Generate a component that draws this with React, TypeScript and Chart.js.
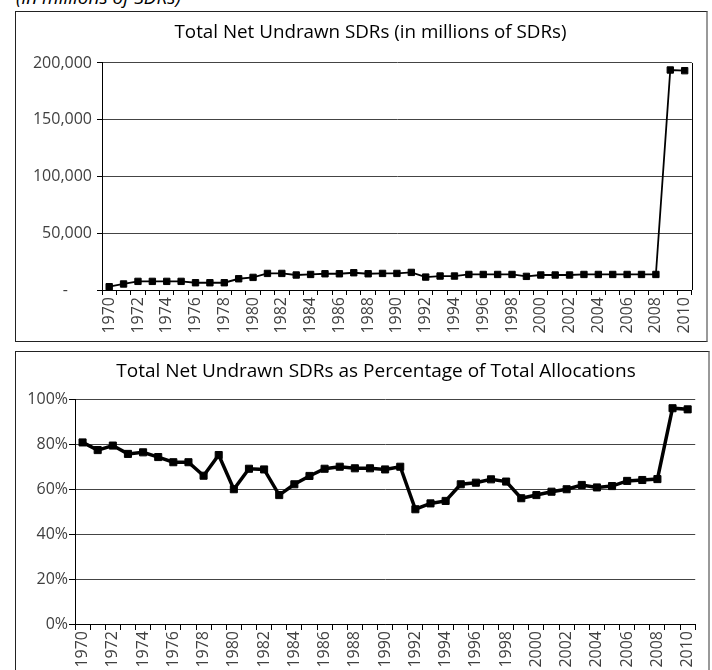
import React, { useEffect, useRef } from "react";
import { Chart, registerables } from "chart.js";

Chart.register(...registerables);

const years = [
  "1970", "1971", "1972", "1973", "1974", "1975", "1976", "1977", "1978", "1979",
  "1980", "1981", "1982", "1983", "1984", "1985", "1986", "1987", "1988", "1989",
  "1990", "1991", "1992", "1993", "1994", "1995", "1996", "1997", "1998", "1999",
  "2000", "2001", "2002", "2003", "2004", "2005", "2006", "2007", "2008", "2009",
  "2010",
];

// Total net undrawn SDRs, millions of SDRs
const undrawnSDRs = [
  2900, 5300, 7600, 7600, 7600, 7600, 6400, 6400, 6400, 9900,
  11100, 14600, 14600, 13200, 13700, 14300, 14300, 15200, 14300, 14600,
  14600, 15500, 11400, 12300, 12300, 13700, 13700, 13700, 13700, 12000,
  13200, 13200, 13200, 13700, 13700, 13700, 13700, 13700, 13700, 193800,
  193200,
];

// Net undrawn as % of total allocations
const undrawnPct = [
  80.7, 77.3, 79.3, 75.6, 76.3, 74.2, 71.9, 71.9, 65.9, 75.1,
  59.9, 69.0, 68.7, 57.3, 62.1, 65.8, 69.0, 69.9, 69.2, 69.2,
  68.7, 69.9, 51.0, 53.6, 54.7, 62.1, 62.8, 64.3, 63.3, 55.9,
  57.3, 58.8, 59.9, 61.8, 60.7, 61.3, 63.6, 64.0, 64.4, 95.9,
  95.4,
];

const title1 = "Total Net Undrawn SDRs (in millions of SDRs)";
const title2 = "Total Net Undrawn SDRs as Percentage of Total Allocations";
const caption = "(in millions of SDRs)";

const FONT = "'Open Sans', 'DejaVu Sans', sans-serif";
const TICK_COLOR = "#404040";

const framePlugin = {
  id: "frameTweaks",
  afterLayout(chart: any, _args: any, opts: any) {
    const tb = chart.titleBlock;
    if (tb && opts && opts.titleShift) {
      tb.left += opts.titleShift;
      tb.right += opts.titleShift;
    }
  },
  afterDraw(chart: any, _args: any, opts: any) {
    if (!opts || !opts.rightBorder) return;
    const { ctx, chartArea } = chart;
    ctx.save();
    ctx.strokeStyle = "#000";
    ctx.lineWidth = 1;
    ctx.beginPath();
    const x = Math.round(chartArea.right) + 0.5;
    ctx.moveTo(x, chartArea.top);
    ctx.lineTo(x, chartArea.bottom);
    ctx.stroke();
    ctx.restore();
  },
};

function makeConfig(opts: {
  data: number[];
  title: string;
  titleSize: number;
  titlePad: { top: number; bottom: number };
  titleShift: number;
  yMax: number;
  yStep: number;
  yFmt: (v: number) => string;
  yWidth: number;
  xHeight: number;
  yTickLen: number;
  yPad: number;
  xTickLen: number;
  xPad: number;
  lineWidth: number;
  pointRadius: number;
  rightBorder: boolean;
}): any {
  return {
    type: "line",
    data: {
      labels: years,
      datasets: [
        {
          data: opts.data,
          borderColor: "#000",
          backgroundColor: "#000",
          borderWidth: opts.lineWidth,
          pointStyle: "rect",
          pointRadius: opts.pointRadius,
          pointBorderWidth: 1,
          pointBackgroundColor: "#000",
          pointBorderColor: "#000",
          tension: 0,
          fill: false,
        },
      ],
    },
    options: {
      animation: false,
      responsive: false,
      maintainAspectRatio: false,
      layout: { padding: { left: 0, right: 11, top: 0, bottom: 0 } },
      plugins: {
        legend: { display: false },
        tooltip: { enabled: false },
        title: {
          display: true,
          text: opts.title,
          color: "#000",
          font: { family: FONT, size: opts.titleSize, weight: "normal" },
          padding: opts.titlePad,
        },
        frameTweaks: { rightBorder: opts.rightBorder, titleShift: opts.titleShift },
      },
      scales: {
        x: {
          type: "category",
          offset: true,
          grid: {
            offset: true,
            drawOnChartArea: false,
            drawTicks: true,
            tickLength: opts.xTickLen,
            tickColor: "#000",
            color: "#000",
          },
          border: { color: "#000", width: 1 },
          ticks: {
            autoSkip: false,
            minRotation: 90,
            maxRotation: 90,
            padding: opts.xPad,
            color: TICK_COLOR,
            font: { family: FONT, size: 16 },
            callback: function (this: any, _v: any, i: number) {
              const y = years[i];
              return parseInt(y, 10) % 2 === 0 ? y : "";
            },
          },
          afterFit: (s: any) => {
            s.height = opts.xHeight;
          },
        },
        y: {
          min: 0,
          max: opts.yMax,
          grid: {
            color: "#444",
            lineWidth: 1,
            tickLength: opts.yTickLen,
            tickColor: "#000",
          },
          border: { color: "#000", width: 1 },
          ticks: {
            stepSize: opts.yStep,
            padding: opts.yPad,
            color: TICK_COLOR,
            font: { family: FONT, size: 16 },
            callback: (v: any) => opts.yFmt(Number(v)),
          },
          afterFit: (s: any) => {
            s.width = opts.yWidth;
          },
        },
      },
    },
    plugins: [framePlugin],
  };
}

function ChartBox(props: { config: any; width: number; height: number }) {
  const ref = useRef<HTMLCanvasElement | null>(null);
  useEffect(() => {
    if (!ref.current) return;
    const chart = new Chart(ref.current, props.config);
    return () => chart.destroy();
  }, []);
  return (
    <canvas
      ref={ref}
      width={props.width}
      height={props.height}
      style={{ display: "block", width: props.width, height: props.height }}
    />
  );
}

export default function App() {
  const cfg1 = makeConfig({
    data: undrawnSDRs,
    title: title1,
    titleSize: 18.8,
    titlePad: { top: 9.7, bottom: 18.7 },
    titleShift: 15,
    yMax: 200000,
    yStep: 50000,
    yFmt: (v) => (v === 0 ? "-\u2002\u2002\u2002" : v.toLocaleString("en-US")),
    yWidth: 86,
    xHeight: 51,
    yTickLen: 5,
    yPad: 5,
    xTickLen: 5,
    xPad: 2,
    lineWidth: 1.8,
    pointRadius: 4.5,
    rightBorder: true,
  });
  const cfg2 = makeConfig({
    data: undrawnPct,
    title: title2,
    titleSize: 19,
    titlePad: { top: 8.6, bottom: 15.6 },
    titleShift: 19.5,
    yMax: 100,
    yStep: 20,
    yFmt: (v) => v + "%",
    yWidth: 59,
    xHeight: 56,
    yTickLen: 6,
    yPad: 1,
    xTickLen: 6,
    xPad: 1,
    lineWidth: 3.5,
    pointRadius: 5,
    rightBorder: false,
  });

  return (
    <div
      style={{
        position: "absolute",
        left: 0,
        top: 0,
        width: 712,
        height: 670,
        overflow: "hidden",
        background: "#fff",
        fontFamily: FONT,
      }}
    >
      <div
        style={{
          position: "absolute",
          left: 16,
          top: -12,
          fontSize: 19,
          lineHeight: "19px",
          fontStyle: "italic",
          color: "#000",
          whiteSpace: "nowrap",
        }}
      >
        {caption}
      </div>
      <div
        style={{
          position: "absolute",
          left: 15,
          top: 11,
          width: 693,
          height: 331,
          boxSizing: "border-box",
          borderTop: "1px solid #222",
          borderLeft: "1px solid #222",
          borderBottom: "1px solid #222",
          borderRight: "2px solid #999",
        }}
      >
        <ChartBox config={cfg1} width={690} height={329} />
      </div>
      <div
        style={{
          position: "absolute",
          left: 15,
          top: 351,
          width: 695,
          height: 330,
          boxSizing: "border-box",
          borderTop: "1px solid #222",
          borderLeft: "1px solid #222",
          borderBottom: "1px solid #222",
          borderRight: "2px solid #999",
        }}
      >
        <ChartBox config={cfg2} width={692} height={328} />
      </div>
    </div>
  );
}
